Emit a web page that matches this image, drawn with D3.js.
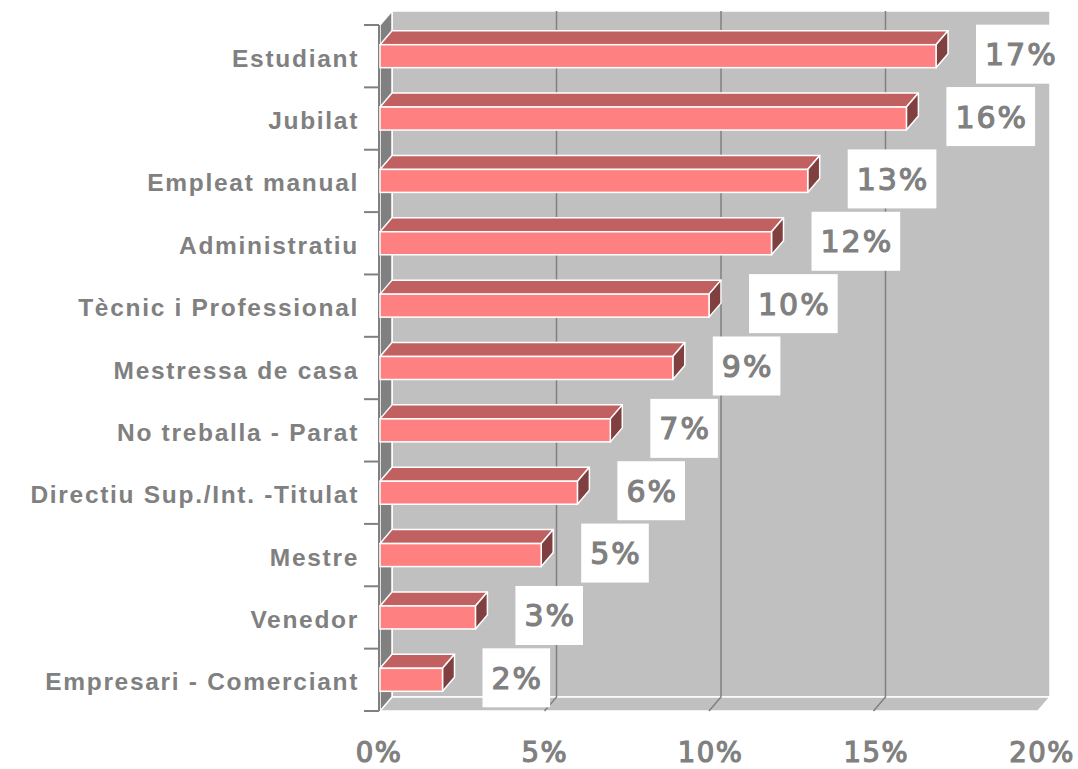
<!DOCTYPE html>
<html>
<head>
<meta charset="utf-8">
<script src="https://cdn.jsdelivr.net/npm/d3@7"></script>
<style>
    body { margin: 0; background: #fff; }
    .cat { font-family: "Liberation Sans", Arial, sans-serif; font-weight: bold; font-size: 24.5px; fill: #808080; letter-spacing: 1.7px; }
    .tick { font-family: "DejaVu Sans", Verdana, sans-serif; font-size: 27.5px; fill: #808080; stroke: #808080; stroke-width: 1.2px; letter-spacing: 1.5px; }
    .val { font-family: "DejaVu Sans", Verdana, sans-serif; font-size: 30px; fill: #808080; stroke: #808080; stroke-width: 1.2px; letter-spacing: 2px; }
</style>
</head>
<body>
<div id="container"></div>
<script>
// dades
var categories = ["Estudiant", "Jubilat", "Empleat manual", "Administratiu", "Tècnic i Professional",
    "Mestressa de casa", "No treballa - Parat", "Directiu Sup./Int. -Titulat", "Mestre", "Venedor",
    "Empresari - Comerciant"];
var values = [16.9, 16.0, 13.0, 11.9, 10.0, 8.9, 7.0, 6.0, 4.9, 2.9, 1.9];
var tickValues = [0, 5, 10, 15, 20];

var w = 1078, h = 769;

// profunditat 3D
var dx = 12, dy = 14;
var faceH = 23;

var x = d3.scaleLinear().domain([0, 20]).range([380, 1038]);
var xLab = d3.scaleLinear().domain([0, 20]).range([378, 1041]);
var y = d3.scaleBand().domain(categories).range([25, 711]);

var svg = d3.select("#container").append("svg")
    .attr("width", w)
    .attr("height", h);

var y0 = y.range()[0], y1 = y.range()[1];

// paret del fons
svg.append("rect")
    .attr("x", x(0) + dx)
    .attr("y", y0 - dy)
    .attr("width", x(20) - x(0))
    .attr("height", y1 - y0)
    .attr("fill", "#c0c0c0")
    .attr("stroke", "#fff")
    .attr("stroke-width", 1.5);

// terra
svg.append("polygon")
    .attr("points", [[x(0) + dx, y1 - dy], [x(20) + dx, y1 - dy], [x(20), y1], [x(0), y1]].join(" "))
    .attr("fill", "#c0c0c0")
    .attr("stroke", "#fff")
    .attr("stroke-width", 1.5);

// línies de graella
var grid = svg.append("g").attr("class", "grid");
tickValues.filter(function (t) { return t > 0 && t < 20; }).forEach(function (t) {
    grid.append("polyline")
        .attr("points", [[x(t) + dx, y0 - dy], [x(t) + dx, y1 - dy], [x(t), y1]].join(" "))
        .attr("fill", "none")
        .attr("stroke", "#808080")
        .attr("stroke-width", 1.5);
});

// paret esquerra
svg.append("polygon")
    .attr("points", [[x(0), y0], [x(0) + dx, y0 - dy], [x(0) + dx, y1 - dy], [x(0), y1]].join(" "))
    .attr("fill", "#808080")
    .attr("stroke", "#fff")
    .attr("stroke-width", 1.5);

// eix vertical i marques entre categories
svg.append("line")
    .attr("x1", x(0) - 1).attr("x2", x(0) - 1)
    .attr("y1", y0).attr("y2", y1)
    .attr("stroke", "#808080")
    .attr("stroke-width", 2);

svg.append("g").selectAll("line")
    .data(d3.range(categories.length + 1))
    .enter()
    .append("line")
    .attr("x1", x(0) - 16)
    .attr("x2", x(0) - 1)
    .attr("y1", function (i) { return y0 + i * y.step(); })
    .attr("y2", function (i) { return y0 + i * y.step(); })
    .attr("stroke", "#808080")
    .attr("stroke-width", 2);

// barres
var bars = svg.append("g").selectAll("g")
    .data(categories)
    .enter()
    .append("g");

function faceTop(d) { return y(d) + y.bandwidth() / 2 - faceH / 2; }
function xEnd(d, i) { return x(values[i]); }

bars.append("polygon")
    .attr("points", function (d, i) {
        var t = faceTop(d), xe = xEnd(d, i);
        return [[x(0), t], [x(0) + dx, t - dy], [xe + dx, t - dy], [xe, t]].join(" ");
    })
    .attr("fill", "#c06060")
    .attr("stroke", "#fff")
    .attr("stroke-width", 1.5)
    .attr("stroke-linejoin", "round");

bars.append("polygon")
    .attr("points", function (d, i) {
        var t = faceTop(d), xe = xEnd(d, i);
        return [[xe, t], [xe + dx, t - dy], [xe + dx, t + faceH - dy], [xe, t + faceH]].join(" ");
    })
    .attr("fill", "#804040")
    .attr("stroke", "#fff")
    .attr("stroke-width", 1.5)
    .attr("stroke-linejoin", "round");

bars.append("rect")
    .attr("x", x(0))
    .attr("y", function (d) { return faceTop(d); })
    .attr("width", function (d, i) { return xEnd(d, i) - x(0); })
    .attr("height", faceH)
    .attr("fill", "#ff8080")
    .attr("stroke", "#fff")
    .attr("stroke-width", 1.5);

// etiquetes de categoria
svg.append("g").selectAll("text")
    .data(categories)
    .enter()
    .append("text")
    .attr("class", "cat")
    .attr("x", 359)
    .attr("y", function (d) { return y(d) + y.bandwidth() / 2 + 10.5; })
    .attr("text-anchor", "end")
    .text(function (d) { return d; });

// etiquetes de valor
var labels = svg.append("g").selectAll("g")
    .data(categories)
    .enter()
    .append("g");

labels.each(function (d, i) {
    var g = d3.select(this);
    var cy = y(d) + y.bandwidth() / 2 - 2;
    var box = g.append("rect").attr("fill", "#fff");
    var txt = g.append("text")
        .attr("class", "val")
        .attr("y", cy + 11)
        .attr("text-anchor", "middle")
        .text(Math.round(values[i]) + "%");
    var tw = txt.node().getComputedTextLength();
    var bw = tw + 16;
    var left = x(values[i]) + 40;
    txt.attr("x", left + bw / 2 + 1);
    box.attr("x", left)
        .attr("y", cy - 29.5)
        .attr("width", bw)
        .attr("height", 59);
});

// etiquetes de l'eix X
svg.append("g").selectAll("text")
    .data(tickValues)
    .enter()
    .append("text")
    .attr("class", "tick")
    .attr("x", function (d) { return xLab(d) + 1; })
    .attr("y", 762)
    .attr("text-anchor", "middle")
    .text(function (d) { return d + "%"; });
</script>
</body>
</html>
